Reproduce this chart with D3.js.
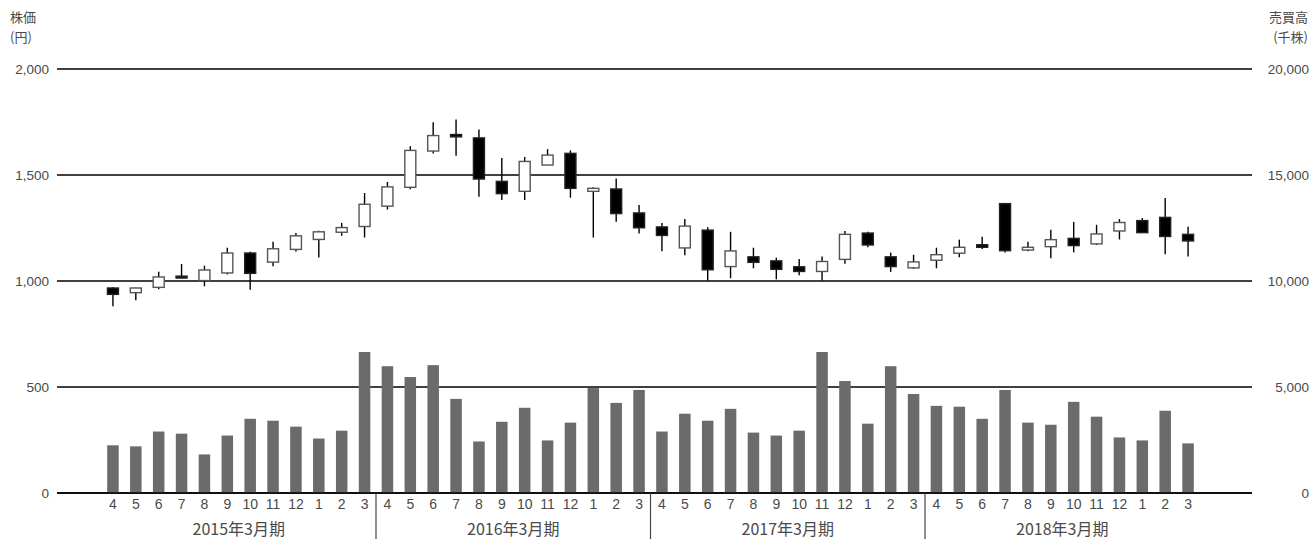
<!DOCTYPE html>
<html>
<head>
<meta charset="utf-8">
<script src="https://cdn.jsdelivr.net/npm/d3@7"></script>
<style>
  html, body { margin: 0; padding: 0; background: #fff; }
  svg { display: block; font-family: "Noto Sans CJK JP", "Noto Sans", sans-serif; }
</style>
</head>
<body>
<svg id="chart" width="1311" height="541"></svg>
<script>
// Monthly stock price (yen) and trading volume (thousand shares)
const months = ["4","5","6","7","8","9","10","11","12","1","2","3",
                "4","5","6","7","8","9","10","11","12","1","2","3",
                "4","5","6","7","8","9","10","11","12","1","2","3",
                "4","5","6","7","8","9","10","11","12","1","2","3"];
const periods = ["2015年3月期", "2016年3月期", "2017年3月期", "2018年3月期"];

const openPrice = [967, 945, 970, 1023, 1002, 1038, 1132, 1089, 1149, 1196, 1230, 1257,
                   1353, 1442, 1613, 1691, 1675, 1470, 1423, 1547, 1602, 1423, 1434, 1321,
                   1255, 1156, 1240, 1068, 1114, 1095, 1067, 1045, 1102, 1226, 1114, 1062,
                   1098, 1131, 1171, 1365, 1146, 1162, 1201, 1175, 1236, 1285, 1300, 1220];
const closePrice = [937, 967, 1019, 1014, 1052, 1132, 1036, 1152, 1213, 1232, 1252, 1362,
                    1444, 1616, 1686, 1680, 1481, 1412, 1564, 1594, 1437, 1437, 1318, 1251,
                    1215, 1259, 1053, 1142, 1088, 1055, 1045, 1092, 1220, 1170, 1068, 1090,
                    1124, 1159, 1159, 1143, 1159, 1195, 1167, 1222, 1276, 1228, 1210, 1189];
const highPrice = [970, 968, 1044, 1080, 1072, 1157, 1138, 1185, 1227, 1237, 1274, 1415,
                   1467, 1636, 1749, 1762, 1715, 1580, 1585, 1622, 1616, 1442, 1484, 1359,
                   1273, 1293, 1254, 1232, 1157, 1110, 1104, 1115, 1236, 1232, 1134, 1124,
                   1157, 1195, 1209, 1367, 1185, 1242, 1279, 1265, 1292, 1297, 1392, 1256];
const lowPrice = [881, 909, 961, 1012, 975, 1031, 959, 1069, 1139, 1111, 1213, 1205,
                  1337, 1433, 1602, 1591, 1397, 1382, 1382, 1547, 1393, 1205, 1280, 1224,
                  1140, 1121, 1002, 1013, 1060, 1008, 1027, 1002, 1081, 1159, 1043, 1057,
                  1060, 1112, 1151, 1135, 1140, 1107, 1135, 1170, 1196, 1228, 1126, 1116];
const volume = [2250, 2200, 2900, 2800, 1820, 2710, 3500, 3410, 3130, 2570, 2940, 6650,
                5980, 5470, 6030, 4440, 2430, 3360, 4020, 2480, 3320, 4950, 4250, 4860,
                2900, 3740, 3410, 3970, 2850, 2710, 2940, 6650, 5280, 3270, 5980, 4670,
                4110, 4070, 3500, 4860, 3320, 3220, 4300, 3600, 2620, 2480, 3880, 2340];

const priceTicks = [0, 500, 1000, 1500, 2000];
const volumeTicks = [0, 5000, 10000, 15000, 20000];

const svg = d3.select("#chart");
const plot = { left: 57, right: 1252, top: 69, bottom: 493 };

const x = d3.scaleBand()
  .domain(d3.range(months.length))
  .range([101.5, 1199.5])
  .paddingInner(0)
  .paddingOuter(0);
const cx = i => x(i) + x.bandwidth() / 2;

const yPrice = d3.scaleLinear().domain([0, 2000]).range([plot.bottom, plot.top]);
const yVol = d3.scaleLinear().domain([0, 20000]).range([plot.bottom, plot.top]);

const textColor = "#4a4a4a";

// Horizontal grid lines
svg.append("g")
  .selectAll("line")
  .data(priceTicks)
  .join("line")
  .attr("x1", plot.left).attr("x2", plot.right)
  .attr("y1", d => yPrice(d)).attr("y2", d => yPrice(d))
  .attr("stroke", "#000").attr("stroke-width", 1.3);

// Left axis (price)
const leftAxis = d3.axisLeft(yPrice)
  .tickValues(priceTicks)
  .tickFormat(d3.format(","))
  .tickSize(0).tickPadding(0);
svg.append("g")
  .attr("transform", `translate(49,0)`)
  .call(leftAxis)
  .call(g => g.select(".domain").remove())
  .call(g => g.selectAll("text").attr("fill", textColor).attr("font-size", 13.5));

// Right axis (volume)
const rightAxis = d3.axisRight(yVol)
  .tickValues(volumeTicks)
  .tickFormat(d3.format(","))
  .tickSize(0).tickPadding(0);
svg.append("g")
  .attr("transform", `translate(1309,0)`)
  .call(rightAxis)
  .call(g => g.select(".domain").remove())
  .call(g => g.selectAll("text").attr("fill", textColor).attr("font-size", 13.5).attr("text-anchor", "end"));

// Axis titles
const leftTitle = svg.append("text").attr("fill", textColor).attr("font-size", 13);
leftTitle.append("tspan").attr("x", 10).attr("y", 22).text("株価");
leftTitle.append("tspan").attr("x", 10).attr("y", 42).text("(円)");
const rightTitle = svg.append("text").attr("fill", textColor).attr("font-size", 13).attr("text-anchor", "end");
rightTitle.append("tspan").attr("x", 1308).attr("y", 22).text("売買高");
rightTitle.append("tspan").attr("x", 1308).attr("y", 42).text("(千株)");

// Volume bars
const barW = 11.5;
svg.append("g")
  .selectAll("rect")
  .data(volume)
  .join("rect")
  .attr("x", (d, i) => cx(i) - barW / 2)
  .attr("width", barW)
  .attr("y", d => yVol(d))
  .attr("height", d => yVol(0) - yVol(d))
  .attr("fill", "#6b6b6b");

// Baseline redrawn over the bars
svg.append("line")
  .attr("x1", plot.left).attr("x2", plot.right)
  .attr("y1", yPrice(0)).attr("y2", yPrice(0))
  .attr("stroke", "#000").attr("stroke-width", 1.3);

// Candlesticks
const candles = months.map((m, i) => ({
  i, o: openPrice[i], c: closePrice[i], h: highPrice[i], l: lowPrice[i]
}));
const candleW = 11;
const cg = svg.append("g");
cg.selectAll("line")
  .data(candles)
  .join("line")
  .attr("x1", d => cx(d.i)).attr("x2", d => cx(d.i))
  .attr("y1", d => yPrice(d.h)).attr("y2", d => yPrice(d.l))
  .attr("stroke", "#000").attr("stroke-width", 1.4);
cg.selectAll("rect")
  .data(candles)
  .join("rect")
  .attr("x", d => cx(d.i) - candleW / 2)
  .attr("width", candleW)
  .attr("y", d => yPrice(Math.max(d.o, d.c)))
  .attr("height", d => Math.max(1.5, Math.abs(yPrice(d.o) - yPrice(d.c))))
  .attr("fill", d => d.c < d.o ? "#000" : "#fff")
  .attr("stroke", d => d.c < d.o ? "#222" : "#555")
  .attr("stroke-width", 1.4);

// Month labels
const xAxis = d3.axisBottom(x)
  .tickFormat(i => months[i])
  .tickSize(0).tickPadding(0);
svg.append("g")
  .attr("transform", `translate(0,${plot.bottom + 6})`)
  .call(xAxis)
  .call(g => g.select(".domain").remove())
  .call(g => g.selectAll("text").attr("fill", textColor).attr("font-size", 14));

// Fiscal-period separators and labels
const perYear = 12;
svg.append("g")
  .selectAll("line")
  .data(d3.range(1, periods.length))
  .join("line")
  .attr("x1", k => x(k * perYear)).attr("x2", k => x(k * perYear))
  .attr("y1", plot.bottom).attr("y2", 539)
  .attr("stroke", "#444").attr("stroke-width", 1.2);
svg.append("g")
  .selectAll("text")
  .data(periods)
  .join("text")
  .attr("x", (d, k) => (x(k * perYear) + x(k * perYear + perYear - 1) + x.bandwidth()) / 2)
  .attr("y", 535)
  .attr("text-anchor", "middle")
  .attr("fill", textColor)
  .attr("font-size", 16)
  .text(d => d);
</script>
</body>
</html>
